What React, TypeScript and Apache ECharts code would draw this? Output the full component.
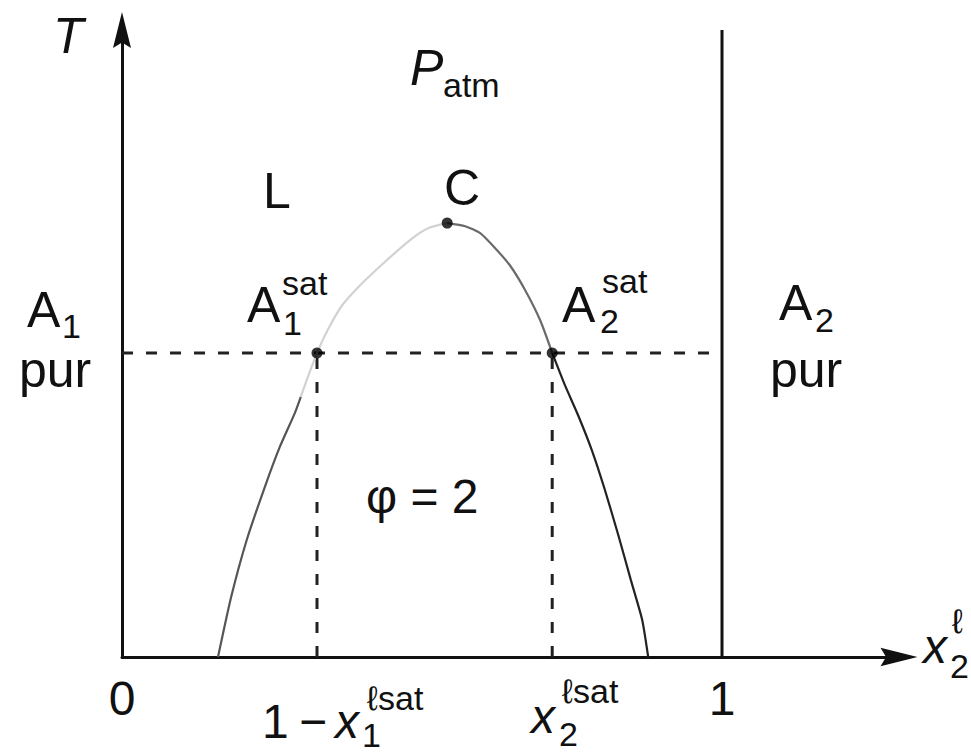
import React, { useEffect, useRef } from "react";
import * as echarts from "echarts";

// Binary liquid–liquid miscibility diagram at atmospheric pressure.
// x: mole fraction x2 (liquid), y: temperature T (arbitrary units 0..1).

const xTicks = [0, 1];
const xTickLabels = ["0", "1"];

// Tie line and notable points
const tieT = 0.485;
const a1SatX = 0.325;
const a2SatX = 0.717;
const criticalPoint = [0.542, 0.692];

// Miscibility-gap boundary, split into shaded segments
const leftBranchLower = [
  [0.16, 0], [0.182, 0.096], [0.208, 0.187], [0.238, 0.271],
  [0.263, 0.335], [0.288, 0.389], [0.298, 0.415],
];
const leftBranchUpper = [
  [0.298, 0.415], [0.308, 0.442], [0.325, 0.485], [0.343, 0.522], [0.367, 0.561],
  [0.397, 0.593], [0.438, 0.63], [0.48, 0.665], [0.51, 0.684], [0.542, 0.692],
];
const rightBranchUpper = [
  [0.542, 0.692], [0.572, 0.687], [0.597, 0.676], [0.622, 0.652],
  [0.647, 0.624], [0.672, 0.585], [0.697, 0.537], [0.717, 0.485],
];
const rightBranchLower = [
  [0.717, 0.485], [0.738, 0.434], [0.76, 0.386], [0.783, 0.33], [0.805, 0.266],
  [0.827, 0.195], [0.848, 0.123], [0.867, 0.059], [0.877, 0],
];

const FONT = "'Liberation Sans', Arial, 'DejaVu Sans', sans-serif";
const INK = "#111";
const ARROW = "path://M5,0 L10,20 L5,17 L0,20 Z";

// text piece placed by its left edge and alphabetic baseline
function piece(text: string, left: number, baseline: number, size: number, italic = false) {
  return {
    type: "text",
    x: left,
    y: baseline - 0.347 * size,
    style: {
      text,
      fontSize: size,
      fontFamily: FONT,
      fontStyle: italic ? "italic" : "normal",
      fill: INK,
      align: "left",
      verticalAlign: "middle",
    },
  };
}

function curve(data: number[][], color: string) {
  return {
    type: "line",
    data,
    smooth: 0.2,
    symbol: "none",
    lineStyle: { color, width: 2.2 },
    z: 3,
  };
}

function dashed(data: number[][]) {
  return {
    type: "line",
    data,
    symbol: "none",
    lineStyle: { color: "#222", width: 3, type: [11, 13] },
    z: 2,
  };
}

export default function App() {
  const ref = useRef<HTMLDivElement>(null);

  useEffect(() => {
    if (!ref.current) return;
    const chart = echarts.init(ref.current, null, { renderer: "svg" });
    const M = 48;
    const S = 34;
    chart.setOption({
      animation: false,
      backgroundColor: "#fff",
      grid: { left: 122, top: 30, width: 777, height: 627 },
      xAxis: {
        type: "value",
        min: 0,
        max: 1.295,
        interval: 1,
        splitLine: { show: false },
        axisTick: { show: false },
        axisLine: {
          show: true,
          lineStyle: { color: INK, width: 3 },
          symbol: ["none", ARROW],
          symbolSize: [22, 37],
        },
        axisLabel: {
          margin: 17,
          fontSize: M,
          fontFamily: FONT,
          color: INK,
          showMaxLabel: false,
          formatter: (v: number) => {
            const i = xTicks.indexOf(v);
            return i >= 0 ? xTickLabels[i] : "";
          },
        },
      },
      yAxis: {
        type: "value",
        min: 0,
        max: 1,
        splitLine: { show: false },
        axisTick: { show: false },
        axisLabel: { show: false },
        axisLine: {
          show: true,
          lineStyle: { color: INK, width: 3 },
          symbol: ["none", ARROW],
          symbolSize: [25, 36],
        },
      },
      series: [
        // pure A2 boundary at x2 = 1
        {
          type: "line",
          data: [[1, 0], [1, 1]],
          symbol: "none",
          lineStyle: { color: INK, width: 3 },
          z: 2,
        },
        dashed([[0, tieT], [1, tieT]]),
        dashed([[a1SatX, 0], [a1SatX, tieT]]),
        dashed([[a2SatX, 0], [a2SatX, tieT]]),
        curve(leftBranchLower, "#555"),
        curve(leftBranchUpper, "#d2d2d2"),
        curve(rightBranchUpper, "#6a6a6a"),
        curve(rightBranchLower, "#222"),
        {
          type: "scatter",
          data: [[a1SatX, tieT], [a2SatX, tieT], criticalPoint],
          symbol: "circle",
          symbolSize: 11,
          itemStyle: { color: "#000" },
          z: 5,
        },
      ],
      graphic: [
        piece("T", 53, 53, 50, true),
        piece("P", 410, 85, 50, true),
        piece("atm", 443, 97, S),
        piece("L", 263, 208, 50),
        piece("C", 444, 205, 50),
        // A1 sat
        piece("A", 247, 322, 50),
        piece("1", 283, 335, S),
        piece("sat", 282, 295, S),
        // A2 sat
        piece("A", 562, 322, 50),
        piece("2", 600, 333, S),
        piece("sat", 602, 293, S),
        // A1 pur
        piece("A", 27, 327, 50),
        piece("1", 62, 338, S),
        piece("pur", 19, 387, 50),
        // A2 pur
        piece("A", 779, 320, 50),
        piece("2", 815, 332, S),
        piece("pur", 770, 387, 50),
        // two-phase region
        piece("φ = 2", 366, 513, M),
        // 1 − x1^ℓsat
        piece("1", 262, 738, M),
        piece("−", 299, 738, M),
        piece("x", 335, 738, M, true),
        piece("1", 362, 747, S),
        piece("ℓsat", 367, 710, S),
        // x2^ℓsat
        piece("x", 531, 733, M, true),
        piece("2", 559, 746, S),
        piece("ℓsat", 562, 703, S),
        // axis name x2^ℓ
        piece("x", 923, 663, M, true),
        piece("2", 950, 678, S),
        piece("ℓ", 952, 633, S),
      ],
    });
    return () => chart.dispose();
  }, []);

  return (
    <div
      ref={ref}
      style={{ position: "fixed", left: 0, top: 0, width: 971, height: 754, background: "#fff" }}
    />
  );
}
